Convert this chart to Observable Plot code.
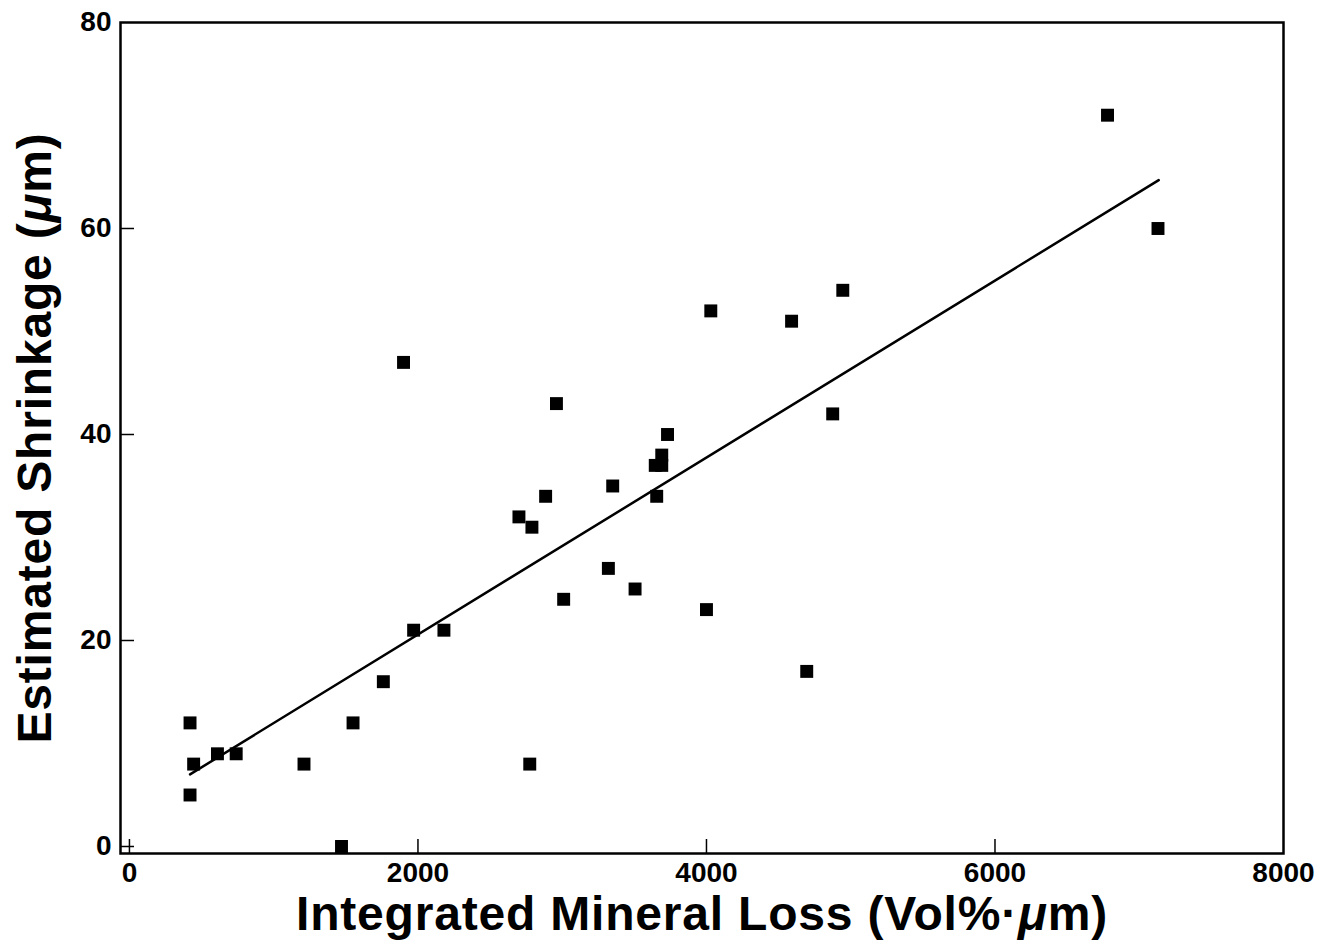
<!DOCTYPE html>
<html><head><meta charset="utf-8">
<script src="https://cdn.jsdelivr.net/npm/d3@7"></script>
<script src="https://cdn.jsdelivr.net/npm/@observablehq/plot@0.6"></script>
<style>
body{margin:0;background:#fff;}
#chart svg{display:block;}
</style>
</head><body><div id="chart"></div>
<script>
// Data
const mineralLoss = [420, 445, 420, 610, 740, 1210, 1470, 1550, 1760, 1900, 1970, 2180, 2700, 2790, 2775, 2885, 2960, 3010, 3320, 3350, 3505, 3645, 3655, 3690, 3690, 3730, 4000, 4030, 4590, 4695, 4875, 4945, 6780, 7130];
const shrinkage   = [12, 8, 5, 9, 9, 8, 0, 12, 16, 47, 21, 21, 32, 31, 8, 34, 43, 24, 27, 35, 25, 37, 34, 38, 37, 40, 23, 52, 51, 17, 42, 54, 71, 60];
const fitX = [420, 7135];
const fitY = [7.0, 64.7];
const xTicks = [0, 2000, 4000, 6000, 8000];
const yTicks = [0, 20, 40, 60, 80];
const xTitle = "Integrated Mineral Loss (Vol%·μm)";
const yTitle = "Estimated Shrinkage (μm)";

const points = mineralLoss.map((x, i) => ({x, y: shrinkage[i]}));
const fit = fitX.map((x, i) => ({x, y: fitY[i]}));

const W = 1335, H = 946;
const mL = 120, mR = 52, mT = 22, mB = 93;
const innerW = W - mL - mR, innerH = H - mT - mB;
const tickLen = 14;
const fmt = d => String(d);

const chart = Plot.plot({
  width: W, height: H,
  marginLeft: mL, marginRight: mR, marginTop: mT, marginBottom: mB,
  style: {fontFamily: "'Liberation Sans', Arial, Helvetica, sans-serif", fontWeight: "bold", fontSize: "28px", color: "#000", background: "#fff"},
  x: {domain: [-62, 8000]},
  y: {domain: [-0.68, 80]},
  marks: [
    Plot.axisX(xTicks, {tickSize: 0, tickPadding: 9, tickFormat: fmt, label: xTitle, labelArrow: "none", labelAnchor: "center", labelOffset: 76, fontSize: 28, fontWeight: "bold"}),
    Plot.axisY(yTicks, {tickSize: 0, tickPadding: 9, tickFormat: fmt, label: yTitle, labelArrow: "none", labelAnchor: "center", labelOffset: 104, fontSize: 28, fontWeight: "bold"}),
    Plot.tickX(xTicks.slice(0, -1), {x: d => d, stroke: "#000", strokeWidth: 1.5, insetTop: innerH - tickLen}),
    Plot.tickY(yTicks.slice(0, -1), {y: d => d, stroke: "#000", strokeWidth: 1.5, insetRight: innerW - tickLen}),
    Plot.line(fit, {x: "x", y: "y", stroke: "#000", strokeWidth: 2.5}),
    Plot.dot(points, {x: "x", y: "y", symbol: "square", r: 7.3, fill: "#000", stroke: "none"}),
    Plot.frame({stroke: "#000", strokeWidth: 2.5})
  ]
});

// italic mu in axis titles, remove any arrows
chart.querySelectorAll('g[aria-label$="axis label"] text').forEach(t => {
  const s = t.textContent.replace(/\s*[→←↑↓]\s*/g, "");
  const parts = s.split("μ");
  t.textContent = "";
  parts.forEach((p, i) => {
    if (i > 0) {
      const ts = document.createElementNS("http://www.w3.org/2000/svg", "tspan");
      ts.setAttribute("font-style", "italic");
      ts.textContent = "μ";
      t.appendChild(ts);
    }
    const tp = document.createElementNS("http://www.w3.org/2000/svg", "tspan");
    tp.textContent = p;
    t.appendChild(tp);
  });
  t.setAttribute("font-size", "48");
  t.setAttribute("letter-spacing", "0.8");
});
document.getElementById("chart").appendChild(chart);
</script>
</body></html>
